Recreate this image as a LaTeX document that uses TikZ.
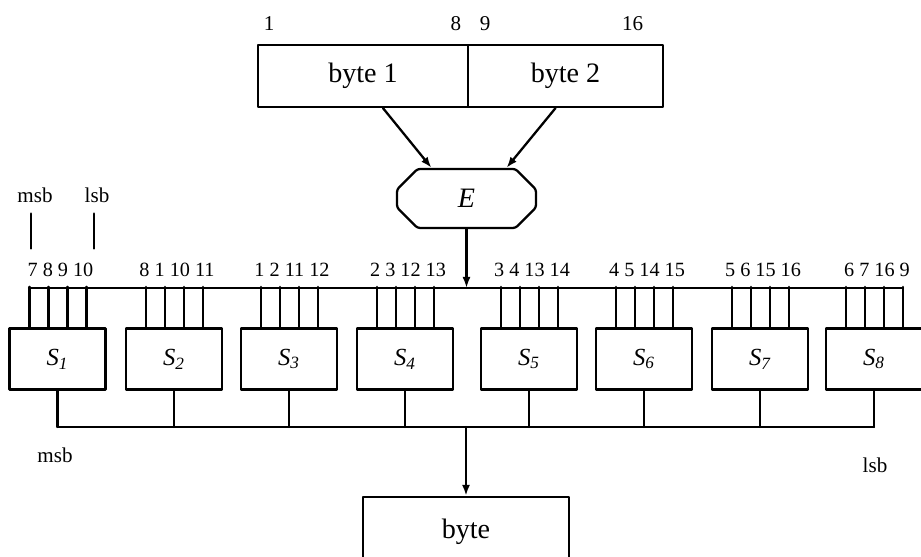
\documentclass[tikz,border=0pt]{standalone}
\usepackage{fontspec}
\setmainfont{Liberation Serif}
\usetikzlibrary{arrows.meta,shapes.misc}

\begin{document}
\begin{tikzpicture}[
	% các kiểu dáng dùng chung
	hop/.style={draw, minimum width=1.92cm, minimum height=1.22cm, inner sep=0pt}, % hộp chữ nhật
	so/.style={font=\fontsize{11.5}{12}\selectfont, inner sep=1pt}, % số thứ tự bit
	chu/.style={font=\fontsize{12}{13}\selectfont, inner sep=0pt}, % chữ msb, lsb
	muiten/.style={-{Latex[length=2.2mm,width=1.6mm]}}, % mũi tên
	x=0.02cm,y=-0.02cm,line width=1.3pt,line join=round,line cap=round]
	\useasboundingbox (0,0) rectangle (921,557);
	\clip (0,0) rectangle (921,557);

	% hai byte đầu vào
	\node[hop, minimum width=4.2cm, minimum height=1.24cm, font=\fontsize{16}{18}\selectfont,
		label={[so, font=\fontsize{12}{13}\selectfont, anchor=south west, xshift=0.08cm, yshift=0.2cm]north west:1},
		label={[so, font=\fontsize{12}{13}\selectfont, anchor=south east, xshift=-0.1cm, yshift=0.2cm]north east:8}]
		(b1) at (363,76) {byte 1};
	\node[hop, minimum width=3.9cm, minimum height=1.24cm, font=\fontsize{16}{18}\selectfont,
		label={[so, font=\fontsize{12}{13}\selectfont, anchor=south west, xshift=0.2cm, yshift=0.2cm]north west:9},
		label={[so, font=\fontsize{12}{13}\selectfont, anchor=south east, xshift=-0.36cm, yshift=0.2cm]north east:16}]
		(b2) at (565.5,76) {byte 2};

	% khối mở rộng E
	\node[chamfered rectangle, draw, chamfered rectangle xsep=0.46cm, rounded corners=1.5pt, minimum width=2.78cm,
		minimum height=1.18cm, font=\fontsize{16}{18}\selectfont\itshape] (E) at (466.5,198.5) {E};
	\draw[muiten] ([xshift=0.4cm]b1.south) -- ([xshift=-0.7cm]E.north);
	\draw[muiten] ([xshift=-0.2cm]b2.south) -- ([xshift=0.8cm]E.north);

	% đường bus và đường gom
	\coordinate (busL) at (29,288);
	\coordinate (busR) at (903,288);
	\coordinate (gom) at (0,427);
	\draw (busL) -- (busR);
	\draw[muiten] (E.south) -- (E.south |- busL);

	% tám hộp S và các bit vào
	\foreach \i/\cx/\ds in {1/57.5/{7 8 9 10}, 2/174/{8 1 10 11}, 3/289/{1 2 11 12}, 4/405/{2 3 12 13},
		5/529/{3 4 13 14}, 6/644/{4 5 14 15}, 7/760/{5 6 15 16}, 8/874/{6 7 16 9}}{
		\node[hop, font=\fontsize{14}{16}\selectfont\itshape] (S\i) at (\cx,359) {S\textsubscript{\i}};
		\foreach \dx in {-0.56,-0.18,0.2,0.58}
			\draw ([xshift=\dx cm]S\i.north) -- ++(0,-40.5);
		\node[so, anchor=base] (n\i) at ([xshift=0.06cm]S\i.north |- 0,277) {\ds};
		\draw (S\i.south) -- (S\i.south |- gom);
	}
	\draw (S1.south |- gom) -- (S8.south |- gom);

	% byte đầu ra
	\node[hop, minimum width=4.12cm, minimum height=1.4cm, font=\fontsize{16}{18}\selectfont] (byte) at (466,532) {byte};
	\draw[muiten] (byte.north |- gom) -- (byte.north);

	% ghi chú msb, lsb
	\node[chu] (msbtren) at (35,195) {msb};
	\node[chu] (lsbtren) at (97,195) {lsb};
	\draw ([xshift=-0.08cm,yshift=-0.2cm]msbtren.south) -- ++(0,35);
	\draw ([xshift=-0.06cm,yshift=-0.2cm]lsbtren.south) -- ++(0,35);
	\node[chu] (msbduoi) at (55,455) {msb};
	\node[chu] (lsbduoi) at (875,465) {lsb};

\end{tikzpicture}
\end{document}
